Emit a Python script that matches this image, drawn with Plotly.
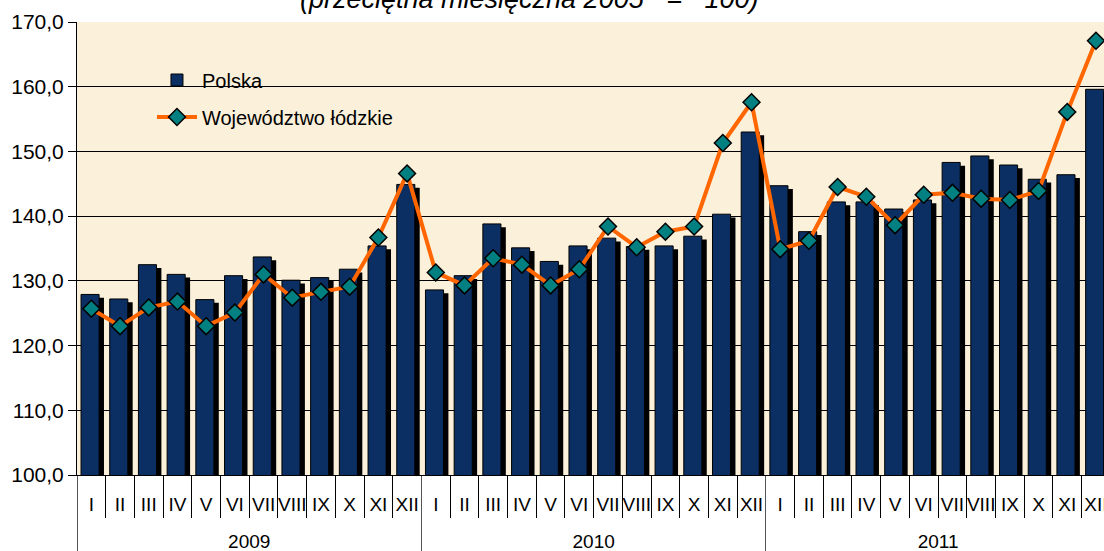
import plotly.graph_objects as go

years = ["2009", "2010", "2011"]
months = ["I", "II", "III", "IV", "V", "VI", "VII", "VIII", "IX", "X", "XI", "XII"]

polska = [127.9, 127.2, 132.5, 131.0, 127.1, 130.8, 133.7, 130.1, 130.5, 131.8, 135.4, 144.9,
          128.6, 130.8, 138.8, 135.1, 133.0, 135.4, 136.6, 135.3, 135.4, 136.9, 140.3, 153.0,
          144.7, 137.6, 142.2, 142.2, 141.1, 142.5, 148.3, 149.3, 147.9, 145.7, 146.4, 159.6]
lodzkie = [125.7, 123.0, 125.9, 126.8, 123.0, 125.1, 131.0, 127.4, 128.3, 129.1, 136.7, 146.6,
           131.3, 129.3, 133.5, 132.5, 129.3, 131.8, 138.4, 135.2, 137.6, 138.4, 151.3, 157.6,
           134.9, 136.2, 144.5, 143.0, 138.6, 143.3, 143.6, 142.7, 142.5, 143.9, 156.1, 167.1]

n = len(polska)
nm = len(months)
idx = list(range(n))
month_text = [m for y in years for m in months]
month_bounds = [i - 0.5 for i in range(n + 1)]
year_centers = [k * nm + (nm - 1) / 2 for k in range(len(years))]
year_bounds = [k * nm - 0.5 for k in range(len(years) + 1)]

FONT = "Liberation Sans, Arial, sans-serif"
BG = "#FBF0DA"
XR = [-0.5, 35.28]

fig = go.Figure()

# shadow of bars
fig.add_trace(go.Bar(
    x=idx, y=[v - 0.5 for v in polska], base=0,
    offset=-0.2, width=0.64,
    marker=dict(color="black", line=dict(width=0)),
    showlegend=False, hoverinfo="skip"))

fig.add_trace(go.Bar(
    x=idx, y=polska, name="Polska",
    offset=-0.36, width=0.63,
    marker=dict(color="#0B2F62", line=dict(color="black", width=1)),
    legendgroup="a"))

fig.add_trace(go.Scatter(
    x=idx, y=lodzkie, name="Województwo łódzkie", mode="lines+markers",
    line=dict(color="#FF6600", width=4),
    marker=dict(symbol="diamond", size=13, color="#008080",
                line=dict(color="black", width=1.5)),
    legendgroup="b"))

fig.update_layout(
    width=1104, height=551,
    margin=dict(l=77, r=0, t=22, b=76, autoexpand=False),
    paper_bgcolor="white", plot_bgcolor=BG,
    barmode="overlay",
    separators=", ",
    font=dict(family=FONT, color="black"),
    showlegend=True,
    legend=dict(x=0.073, y=0.915, xanchor="left", yanchor="top",
                bgcolor="rgba(0,0,0,0)", font=dict(size=20),
                traceorder="grouped", tracegroupgap=8, itemwidth=40),
    xaxis=dict(range=XR, tickmode="array", tickvals=idx, ticktext=month_text,
               ticks="", showline=True, linecolor="black", linewidth=1,
               tickangle=0, tickfont=dict(size=19, family=FONT),
               ticklabeloverflow="allow", ticklabelstandoff=12, automargin=False,
               showgrid=False, zeroline=False,
               minor=dict(tickmode="array", tickvals=month_bounds,
                          ticks="outside", ticklen=42, tickcolor="black",
                          showgrid=False)),
    xaxis2=dict(overlaying="x", anchor="free", position=0, side="bottom",
                range=XR, tickmode="array", tickvals=year_centers, ticktext=years,
                ticks="", showline=False, showgrid=False, zeroline=False,
                tickangle=0, tickfont=dict(size=19, family=FONT),
                ticklabelstandoff=53, ticklabeloverflow="allow", automargin=False,
                minor=dict(tickmode="array", tickvals=year_bounds,
                           ticks="outside", ticklen=80, tickcolor="#555",
                           showgrid=False)),
    yaxis=dict(range=[100, 170], dtick=10, tickformat=".1f",
               showgrid=True, gridcolor="black", gridwidth=1,
               showline=True, linecolor="black", linewidth=1,
               ticks="outside", ticklen=8, tickcolor="black", automargin=False,
               tickfont=dict(size=21, family=FONT), zeroline=False),
    shapes=[dict(type="rect", xref="paper", yref="paper",
                 x0=(124 - 77) / 1027, x1=(425 - 77) / 1027,
                 y0=0.75, y1=0.916, fillcolor=BG, line=dict(width=0),
                 layer="between")],
    annotations=[dict(xref="paper", yref="paper", x=(529 - 77) / 1027, y=1.0136,
                      xanchor="center", yanchor="bottom", showarrow=False,
                      text="<i>(przeciętna miesięczna 2005\u00a0\u00a0\u00a0=\u00a0\u00a0\u00a0100)</i>",
                      font=dict(size=27, family=FONT, color="black"))],
)

# invisible helper trace so the year axis is rendered
fig.add_trace(go.Scatter(x=[year_centers[0]], y=[None], xaxis="x2", showlegend=False,
                         hoverinfo="skip", mode="markers"))

fig.write_html("out.html", post_script="document.body.style.margin='0';",
               config={"displayModeBar": False})
